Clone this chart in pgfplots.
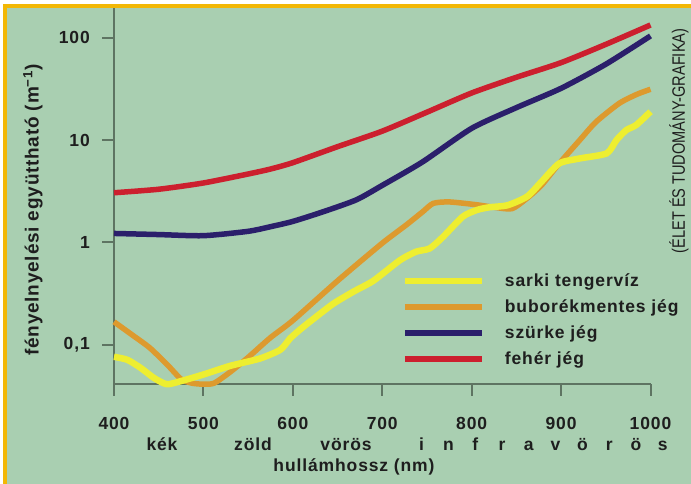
\documentclass[border=0pt]{standalone}
\usepackage{fontspec}
\setmainfont{Liberation Sans}
\newfontfamily\lbl{Liberation Sans}[LetterSpace=5]
\newfontfamily\ylbl{Liberation Sans}[LetterSpace=4]
\usepackage{graphicx}
\usepackage{pgfplots}
\pgfplotsset{compat=1.18}
\definecolor{bgc}{HTML}{A9CFB1}
\definecolor{bordc}{HTML}{F2B705}
\definecolor{redc}{HTML}{CC1F2E}
\definecolor{navyc}{HTML}{2B1F6B}
\definecolor{orc}{HTML}{DD9A2E}
\definecolor{yelc}{HTML}{EEEE30}
\definecolor{axc}{HTML}{5E7462}
\definecolor{txtc}{HTML}{1E1E1E}
\begin{document}
\begin{tikzpicture}[x=1pt,y=1pt]
\useasboundingbox (0,0) rectangle (691,484);
\fill[white] (0,0) rectangle (691,484);
\fill[bordc] (3.3,0) rectangle (691,479.5);
\fill[bgc] (7.3,0) rectangle (691,475.5);
\begin{axis}[
  at={(114pt,100pt)}, anchor=south west,
  scale only axis, width=536.5pt, height=376pt,
  xmin=400, xmax=1000, ymode=log, ymin=0.0412, ymax=195,
  axis x line*=bottom, axis y line*=left,
  axis line style={draw=axc, line width=2pt},
  tick style={draw=axc, line width=2pt},
  tick align=outside, major tick length=12pt,
  xtick={400,500,...,1000}, ytick={0.1,1,10,100},
  xticklabels={400,500,600,700,800,900,1000},
  yticklabels={{0,1},1,10,100},
  yminorticks=false,
  xticklabel style={font=\lbl\bfseries\fontsize{17.5}{20}\selectfont, text=txtc, inner sep=0pt, anchor=north, yshift=-21pt},
  yticklabel style={font=\lbl\bfseries\fontsize{17.5}{20}\selectfont, text=txtc, inner sep=0pt, anchor=east, xshift=-12pt},
  clip=false,
  reverse legend,
  legend style={at={(axis cs:722,0.50)}, anchor=north west, draw=none, fill=none,
    inner sep=0pt, outer sep=0pt, row sep=9pt, column sep=20pt,
    font=\lbl\bfseries\fontsize{17.5}{20}\selectfont, text=txtc,
    nodes={inner sep=0pt, text height=13pt, text depth=4pt, anchor=base west}},
  legend cell align=left,
  legend image code/.code={\draw[#1, line width=6pt] (0pt,5pt) -- (77pt,5pt);},
]
\addplot[redc, line width=5.5pt, smooth, tension=0.4] coordinates {
(400,3.05)(450,3.3)(500,3.8)(550,4.65)(575,5.2)(600,6.0)(650,8.6)(700,12.2)(750,18.7)(800,28.8)(850,41)(900,57)(950,86)(1000,133)};
\addlegendentry{fehér jég}
\addplot[navyc, line width=5.5pt, smooth, tension=0.4] coordinates {
(400,1.22)(450,1.19)(500,1.16)(550,1.28)(575,1.42)(600,1.6)(634,1.99)(671,2.6)(700,3.6)(745,6.1)(800,13)(850,20.7)(900,32)(950,55)(1000,104)};
\addlegendentry{szürke jég}
\addplot[orc, line width=5.5pt, smooth, tension=0.4] coordinates {
(400,0.167)(420,0.125)(440,0.093)(460,0.063)(475,0.046)(487,0.042)(500,0.041)(512,0.042)(530,0.054)(550,0.075)(575,0.117)(600,0.172)(650,0.42)(700,0.98)(727,1.48)(745,1.98)(757,2.4)(775,2.48)(805,2.33)(825,2.2)(845,2.13)(862,2.7)(878,3.6)(898,5.9)(921,10)(939,15)(965,22.8)(985,28)(1000,31.3)};
\addlegendentry{buborékmentes jég}
\addplot[yelc, line width=6.5pt, smooth, tension=0.4] coordinates {
(400,0.076)(415,0.071)(430,0.059)(445,0.047)(459,0.041)(475,0.044)(500,0.051)(530,0.062)(563,0.073)(586,0.089)(597,0.115)(608,0.14)(620,0.17)(645,0.25)(668,0.33)(690,0.42)(720,0.67)(738,0.81)(753,0.87)(768,1.13)(790,1.78)(806,2.07)(820,2.2)(840,2.3)(862,2.8)(878,3.9)(898,5.9)(921,6.6)(951,7.4)(962,10)(973,12.5)(984,14.0)(1000,18.9)};
\addlegendentry{sarki tengervíz}
\end{axis}
\begin{scope}[every node/.style={font=\lbl\bfseries\fontsize{17.5}{20}\selectfont, text=txtc, inner sep=0pt}]
\node[rotate=90, font=\ylbl\bfseries\fontsize{19}{22}\selectfont] at (33,274) {fényelnyelési együttható (m\textsuperscript{−1})};
\node[anchor=base] at (162,33) {kék};
\node[anchor=base] at (253,33) {zöld};
\node[anchor=base] at (346,33) {vörös};
\foreach \l [count=\k from 0] in {i,n,f,r,a,v,ö,r,ö,s}{
  \node[anchor=base] at (421.6+26.8*\k,33) {\l};
}
\node[anchor=base] at (354,12) {hullámhossz (nm)};
\end{scope}
\node[rotate=90, inner sep=0pt, text=txtc] at (679,343) {\scalebox{0.81}[1]{\fontsize{18}{20}\selectfont (ÉLET ÉS TUDOMÁNY-GRAFIKA)}};
\end{tikzpicture}
\end{document}
